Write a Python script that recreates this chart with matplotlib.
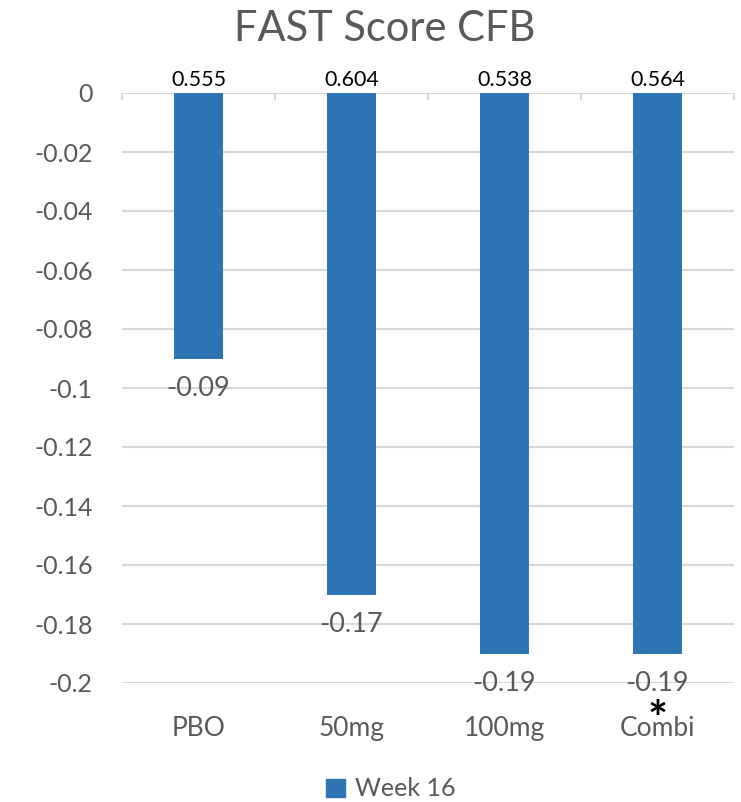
import matplotlib
matplotlib.use("Agg")
import matplotlib.pyplot as plt
from matplotlib.patches import Patch
from matplotlib.ticker import FixedLocator

plt.rcParams['font.family'] = ['Lato', 'DejaVu Sans']

categories = ['PBO', '50mg', '100mg', 'Combi']
values = [-0.09, -0.17, -0.19, -0.19]
top_labels = ['0.555', '0.604', '0.538', '0.564']
value_labels = ['-0.09', '-0.17', '-0.19', '-0.19']
yticks = [0, -0.02, -0.04, -0.06, -0.08, -0.1, -0.12, -0.14, -0.16, -0.18, -0.2]
ytick_labels = ['0', '-0.02', '-0.04', '-0.06', '-0.08', '-0.1', '-0.12', '-0.14', '-0.16', '-0.18', '-0.2']
series_name = 'Week 16'
title = 'FAST Score CFB'
starred = ['Combi']

W, H = 741, 802
BAR = '#2E75B6'
GRAY = '#595959'
GRID = '#D9D9D9'

fig = plt.figure(figsize=(W / 100, H / 100), dpi=100)
ax = fig.add_axes([122 / W, 1 - 683 / H, 612 / W, 590 / H])

x = list(range(len(categories)))
ax.bar(x, values, width=0.314, color=BAR, zorder=3)

ax.set_xlim(-0.5, len(categories) - 0.5)
ax.set_ylim(-0.2, 0)
ax.set_yticks(yticks)
ax.set_yticklabels(ytick_labels, fontsize=18, color=GRAY)
ax.tick_params(axis='y', length=0, pad=21)
ax.yaxis.grid(True, color=GRID, linewidth=1.5, zorder=0)
ax.set_axisbelow(True)

ax.set_xticks([])
ax.xaxis.set_minor_locator(FixedLocator([i - 0.5 for i in range(len(categories) + 1)]))
ax.tick_params(axis='x', which='minor', top=True, bottom=False, direction='in',
               length=5, width=1.5, color=GRID, labeltop=False, labelbottom=False)
for s in ax.spines.values():
    s.set_visible(False)

for i, c in enumerate(categories):
    ax.annotate(c, (i, -0.2), xytext=(0, -33), textcoords='offset points',
                ha='center', va='center', fontsize=19, color=GRAY, annotation_clip=False)
    ax.annotate(top_labels[i], (i, 0), xytext=(0, 9.5), textcoords='offset points',
                ha='center', va='center', fontsize=15.5, color='black', annotation_clip=False)
    ax.annotate(value_labels[i], (i, values[i]), xytext=(0, -21.5), textcoords='offset points',
                ha='center', va='center', fontsize=19.5, color=GRAY, annotation_clip=False, zorder=5)
    if c in starred:
        ax.annotate('*', (i, values[i]), xytext=(0, -48.5), textcoords='offset points',
                    ha='center', va='center', fontsize=34, fontweight='bold', color='black',
                    annotation_clip=False, zorder=5)

fig.text(385 / W, 1 - 29 / H, title, ha='center', va='center', fontsize=30, color=GRAY)

fig.legend(handles=[Patch(color=BAR)], labels=[series_name], loc='center',
           bbox_to_anchor=(391 / W, 1 - 789 / H), frameon=False, handlelength=0.75,
           handleheight=0.75, handletextpad=0.4, fontsize=18, labelcolor=GRAY)

fig.savefig('out.png', dpi=100)
